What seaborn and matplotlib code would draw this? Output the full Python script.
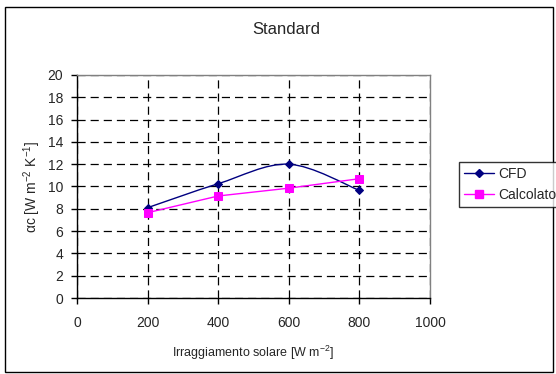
import matplotlib
matplotlib.use("Agg")
import matplotlib.pyplot as plt
import seaborn as sns
import pandas as pd
import numpy as np
from matplotlib.path import Path
from matplotlib.patches import PathPatch, Rectangle

irraggiamento = [200, 400, 600, 800]
cfd = [8.1, 10.25, 12.0, 9.65]
calcolato = [7.65, 9.15, 9.85, 10.7]
x_ticks = [0, 200, 400, 600, 800, 1000]
y_ticks = [0, 2, 4, 6, 8, 10, 12, 14, 16, 18, 20]

sns.set_theme(style="white")
plt.rcParams['font.family'] = ['Liberation Sans', 'DejaVu Sans']
plt.rcParams['mathtext.fontset'] = 'custom'
plt.rcParams['mathtext.rm'] = 'Liberation Sans'
plt.rcParams['mathtext.it'] = 'Liberation Sans:italic'

df = pd.DataFrame({"x": irraggiamento, "CFD": cfd, "Calcolato": calcolato})

fig = plt.figure(figsize=(5.56, 3.74), dpi=100)
ax = fig.add_axes([0.1385, 0.2032, 0.7734 - 0.1385, 0.7995 - 0.2032])

navy = "#000080"
magenta = "#FF00FF"

# smoothed CFD line (Excel-style Bezier smoothing through the data points)
pts = np.column_stack([df["x"].values, df["CFD"].values]).astype(float)
verts = [tuple(pts[0])]
codes = [Path.MOVETO]
n = len(pts)
for i in range(n - 1):
    p0 = pts[i - 1] if i > 0 else pts[i]
    p1 = pts[i]
    p2 = pts[i + 1]
    p3 = pts[i + 2] if i + 2 < n else pts[i + 1]
    c1 = p1 + (p2 - p0) / 6.0
    c2 = p2 - (p3 - p1) / 6.0
    verts += [tuple(c1), tuple(c2), tuple(p2)]
    codes += [Path.CURVE4] * 3
ax.add_patch(PathPatch(Path(verts, codes), facecolor="none", edgecolor=navy, lw=1.0, zorder=3))
sns.lineplot(data=df, x="x", y="CFD", ax=ax, color=navy, marker="D", markersize=4.2,
             markeredgecolor=navy, linestyle="none", zorder=4)

sns.lineplot(data=df, x="x", y="Calcolato", ax=ax, color=magenta, marker="s", markersize=5.5,
             markeredgecolor=magenta, lw=1.0, zorder=4)

ax.set_xlim(0, 1000)
ax.set_ylim(0, 20)
ax.set_xticks(x_ticks)
ax.set_yticks(y_ticks)
ax.set_xticklabels([str(v) for v in x_ticks], fontsize=10)
ax.set_yticklabels([str(v) for v in y_ticks], fontsize=10)
ax.tick_params(axis="both", direction="out", length=4, width=1, color="black", pad=6,
               bottom=True, left=True)
ax.tick_params(axis="x", pad=9)

ax.grid(True, color="black", linestyle=(0, (6.5, 4)), linewidth=0.9)
ax.set_axisbelow(True)
for s in ["left", "bottom"]:
    ax.spines[s].set_color("black")
    ax.spines[s].set_linewidth(1.0)
for s in ["top", "right"]:
    ax.spines[s].set_color("#808080")
    ax.spines[s].set_linewidth(1.0)

ax.set_xlabel("Irraggiamento solare [W m$^{-2}$]", fontsize=9, labelpad=10)
ax.set_ylabel("αc [W m$^{-2}$ K$^{-1}$]", fontsize=10, labelpad=3)
fig.text(0.5145, 0.922, "Standard", ha="center", va="center", fontsize=12)

h = [plt.Line2D([], [], color=navy, marker="D", markersize=4.2, lw=1.0),
     plt.Line2D([], [], color=magenta, marker="s", markersize=5.5, lw=1.0)]
leg = fig.legend(h, ["CFD", "Calcolato"], loc="upper left", bbox_to_anchor=(0.825, 0.567),
                 frameon=True, fancybox=False, shadow=False, fontsize=10,
                 handlelength=2.2, handletextpad=0.3, borderpad=0.35, labelspacing=0.5,
                 borderaxespad=0)
leg.get_frame().set_edgecolor("black")
leg.get_frame().set_linewidth(1.0)

fig.patches.append(Rectangle((0.009, 0.005), 0.985, 0.975, transform=fig.transFigure,
                             fill=False, edgecolor="black", lw=1.0))

fig.savefig("out.png", dpi=100)
